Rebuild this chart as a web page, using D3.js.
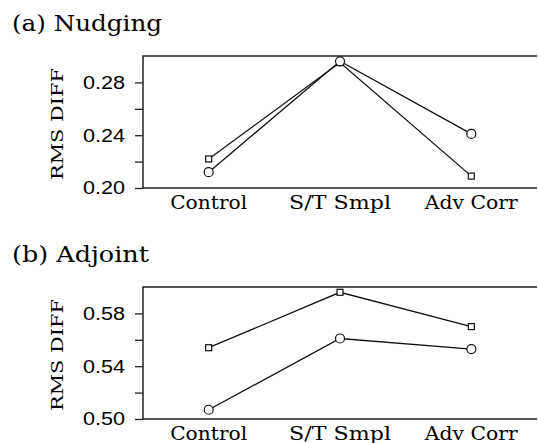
<!DOCTYPE html>
<html>
<head>
<meta charset="utf-8">
<script src="https://cdn.jsdelivr.net/npm/d3@7"></script>
<style>
  body { margin: 0; background: #fff; }
  svg { display: block; }
</style>
</head>
<body>
<div id="wrapper"></div>
<script>
// Data
const categories = ["Control", "S/T Smpl", "Adv Corr"]

const nudgingSquare = [0.222, 0.295, 0.209]
const nudgingCircle = [0.212, 0.296, 0.241]
const adjointSquare = [0.554, 0.596, 0.570]
const adjointCircle = [0.507, 0.561, 0.553]

const nudgingTicks = [0.20, 0.22, 0.24, 0.26, 0.28]
const nudgingLabels = [0.20, 0.24, 0.28]
const adjointTicks = [0.50, 0.52, 0.54, 0.56, 0.58]
const adjointLabels = [0.50, 0.54, 0.58]

// measured text widths, used to match the wide original lettering
const catWidths = {"Control": 77, "S/T Smpl": 102, "Adv Corr": 93}

const width = 538
const height = 443

const wrapper = d3.select("#wrapper")
    .append("svg")
    .attr("width", width)
    .attr("height", height)

function drawPanel(opts) {
    const left = 143
    const right = 537
    const top = opts.top
    const bottom = opts.top + 132

    const xScale = d3.scalePoint()
        .domain(categories)
        .range([left, right])
        .padding(0.5)

    const yScale = d3.scaleLinear()
        .domain(opts.domain)
        .range([bottom, top])

    const g = wrapper.append("g")

    // panel title
    g.append("text")
        .attr("x", 12)
        .attr("y", top - 25)
        .attr("font-family", "DejaVu Serif")
        .attr("font-size", 21.5)
        .attr("textLength", opts.titleWidth)
        .attr("lengthAdjust", "spacingAndGlyphs")
        .text(opts.title)

    // frame (top, left, bottom)
    g.append("path")
        .attr("d", `M${right},${top}H${left}V${bottom}H${right}`)
        .attr("fill", "none")
        .attr("stroke", "#222")
        .attr("stroke-width", 1.5)

    // y axis
    const yAxisGenerator = d3.axisLeft(yScale)
        .tickValues(opts.ticks)
        .tickSize(8)
        .tickFormat("")
    const yAxis = g.append("g")
        .attr("transform", `translate(${left},0)`)
        .call(yAxisGenerator)
    yAxis.select(".domain").remove()
    yAxis.selectAll(".tick line").attr("stroke", "#222").attr("stroke-width", 1.3)

    g.append("g").selectAll("text")
        .data(opts.labels)
        .join("text")
            .attr("x", 125)
            .attr("y", d => yScale(d))
            .attr("dy", "0.36em")
            .attr("text-anchor", "end")
            .attr("font-family", "Liberation Sans")
            .attr("font-size", 18)
            .attr("textLength", 42)
            .attr("lengthAdjust", "spacingAndGlyphs")
            .text(d => d3.format(".2f")(d))

    // y label
    g.append("text")
        .attr("transform", `translate(63,${(top + bottom) / 2 + 2}) rotate(-90)`)
        .attr("text-anchor", "middle")
        .attr("font-family", "DejaVu Serif")
        .attr("font-size", 17.5)
        .attr("textLength", 112)
        .attr("lengthAdjust", "spacingAndGlyphs")
        .text("RMS DIFF")

    // category labels
    g.append("g").selectAll("text")
        .data(categories)
        .join("text")
            .attr("x", d => xScale(d))
            .attr("y", bottom + 21)
            .attr("text-anchor", "middle")
            .attr("font-family", "DejaVu Serif")
            .attr("font-size", 19)
            .attr("textLength", d => catWidths[d])
            .attr("lengthAdjust", "spacingAndGlyphs")
            .text(d => d)

    const lineGenerator = d3.line()
        .x((d, i) => xScale(categories[i]))
        .y(d => yScale(d))

    const series = [
        {values: opts.square, shape: "square"},
        {values: opts.circle, shape: "circle"},
    ]

    series.forEach(s => {
        g.append("path")
            .attr("d", lineGenerator(s.values))
            .attr("fill", "none")
            .attr("stroke", "#111")
            .attr("stroke-width", 1.3)
    })

    series.forEach(s => {
        const pts = g.append("g").selectAll("g")
            .data(s.values)
            .join("g")
        if (s.shape === "square") {
            pts.append("rect")
                .attr("x", (d, i) => xScale(categories[i]) - 3)
                .attr("y", d => yScale(d) - 3)
                .attr("width", 6)
                .attr("height", 6)
                .attr("fill", "#fff")
                .attr("stroke", "#111")
                .attr("stroke-width", 1.2)
        } else {
            pts.append("circle")
                .attr("cx", (d, i) => xScale(categories[i]))
                .attr("cy", d => yScale(d))
                .attr("r", 4.5)
                .attr("fill", "#fff")
                .attr("stroke", "#111")
                .attr("stroke-width", 1.2)
        }
    })
}

drawPanel({
    title: "(a) Nudging",
    titleWidth: 150,
    top: 56,
    domain: [0.20, 0.30],
    ticks: nudgingTicks,
    labels: nudgingLabels,
    square: nudgingSquare,
    circle: nudgingCircle,
})

drawPanel({
    title: "(b) Adjoint",
    titleWidth: 137,
    top: 287,
    domain: [0.50, 0.60],
    ticks: adjointTicks,
    labels: adjointLabels,
    square: adjointSquare,
    circle: adjointCircle,
})
</script>
</body>
</html>
